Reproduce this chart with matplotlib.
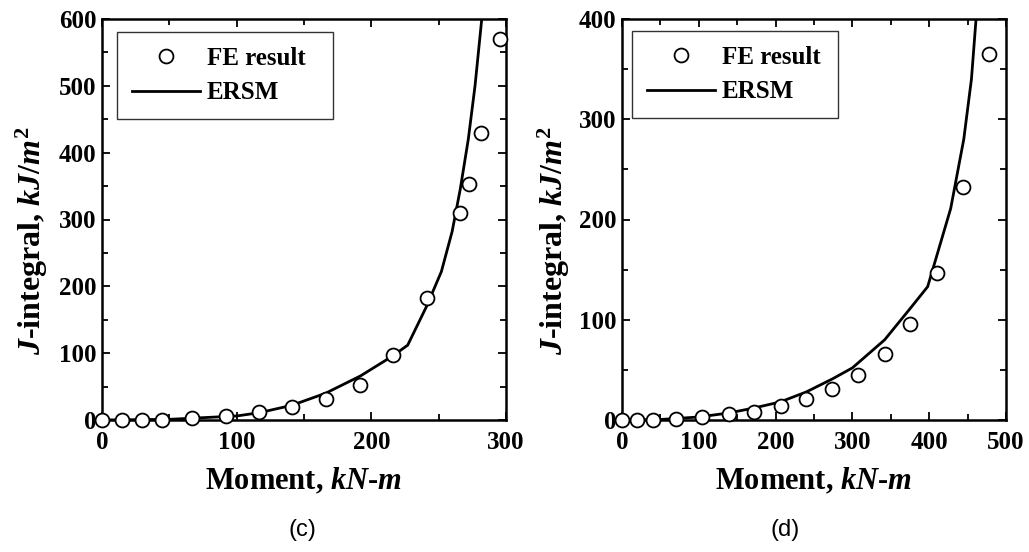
import matplotlib
matplotlib.use("Agg")
import matplotlib.pyplot as plt
from matplotlib.ticker import MultipleLocator

plt.rcParams['font.family'] = ['Liberation Serif', 'DejaVu Serif']
plt.rcParams['font.weight'] = 'bold'
plt.rcParams['mathtext.fontset'] = 'custom'
plt.rcParams['mathtext.it'] = 'Liberation Serif:italic:bold'
plt.rcParams['mathtext.rm'] = 'Liberation Serif:bold'
plt.rcParams['mathtext.bf'] = 'Liberation Serif:bold'

# Panel (c)
fe_c_x = [0, 15, 29.5, 44.5, 66.7, 91.8, 116.6, 141.2, 166.3, 191.6, 216.4, 241, 266, 272.2, 281.1, 295.5]
fe_c_y = [0, 0, 0, 0, 3.5, 6.5, 11.5, 19, 31, 53, 97, 183, 309, 353, 429, 570]
ersm_c_x = [0, 50, 100, 117, 141, 166, 192, 216, 227, 241, 252, 260, 266, 272, 277, 282, 286]
ersm_c_y = [0, 1, 6, 11, 22, 40, 66, 96, 112, 170, 222, 282, 345, 420, 500, 600, 680]

# Panel (d)
fe_d_x = [0, 19.3, 40, 70.3, 104.6, 138.8, 172.2, 206.5, 239.9, 273.7, 307.6, 341.8, 375.2, 409.9, 443.8, 477.6]
fe_d_y = [0, 0, 0, 1, 3.3, 5.6, 8.3, 14, 21, 31, 45, 66, 96, 147, 232, 365]
ersm_d_x = [0, 50, 100, 139, 172, 206, 240, 274, 300, 342, 375, 398, 428, 445, 455, 462, 466]
ersm_d_y = [0, 0.5, 3, 7, 12, 18, 28, 41, 52, 80, 111, 133, 211, 280, 340, 410, 440]

W, H = 1029, 552
fig = plt.figure(figsize=(W / 100, H / 100), dpi=100)

def make_ax(l, r, t, b):
    return fig.add_axes([l / W, 1 - b / H, (r - l) / W, (b - t) / H])

ax1 = make_ax(102, 506, 19, 420)
ax2 = make_ax(622, 1006, 19, 420)

panels = [
    (ax1, fe_c_x, fe_c_y, ersm_c_x, ersm_c_y, 300, 600, 32, 302, "(c)", (117, 333, 32), (102, 506)),
    (ax2, fe_d_x, fe_d_y, ersm_d_x, ersm_d_y, 500, 400, 554, 785, "(d)", (632, 838, 31), (622, 1006)),
]

for ax, fx, fy, ex, ey, xmax, ymax, ylab_x, cap_x, cap, lg, span in panels:
    ax.plot(ex, ey, '-', color='black', lw=2.0, label='ERSM', zorder=2)
    ax.plot(fx, fy, 'o', ms=10, mfc='white', mec='black', mew=1.3,
            label='FE result', clip_on=False, zorder=3)
    ax.set_xlim(0, xmax)
    ax.set_ylim(0, ymax)
    ax.xaxis.set_major_locator(MultipleLocator(100))
    ax.xaxis.set_minor_locator(MultipleLocator(50))
    ax.yaxis.set_major_locator(MultipleLocator(100))
    ax.yaxis.set_minor_locator(MultipleLocator(50))
    ax.tick_params(which='both', direction='in', top=True, right=True, width=1.3)
    ax.tick_params(which='major', length=6, labelsize=18)
    ax.tick_params(which='minor', length=4)
    ax.tick_params(axis='x', pad=8)
    ax.tick_params(axis='y', pad=4)
    for lab in ax.get_xticklabels() + ax.get_yticklabels():
        lab.set_fontweight('bold')
    for s in ax.spines.values():
        s.set_linewidth(1.8)
    ax.set_xlabel(r"Moment, $kN$-$m$", fontsize=22, fontweight='bold')
    ax.xaxis.set_label_coords(0.5, (420 - 466) / 401, transform=ax.transAxes)
    ax.set_ylabel(r"$J$-integral, $kJ/m^2$", fontsize=23, fontweight='bold')
    ax.yaxis.label.set_horizontalalignment('center')
    ax.yaxis.label.set_verticalalignment('center')
    ax.yaxis.set_label_coords(ylab_x / W, 1 - 241 / H, transform=fig.transFigure)
    handles, labels = ax.get_legend_handles_labels()
    l, r, t = lg
    aw = span[1] - span[0]
    leg = ax.legend(handles[::-1], labels[::-1], loc='upper left',
                    bbox_to_anchor=((l - span[0]) / aw, (420 - t) / 401, (r - l) / aw, 0),
                    mode='expand',
                    fancybox=False, framealpha=1, edgecolor='#333333',
                    prop={'family': 'Liberation Serif', 'weight': 'bold', 'size': 18},
                    handlelength=2.7, handletextpad=0.3, borderpad=0.6, labelspacing=0.45,
                    borderaxespad=0)
    leg.get_frame().set_linewidth(1.0)
    fig.text(cap_x / W, 1 - 530 / H, cap, ha='center', va='center',
             fontsize=17, fontweight='normal', family='Liberation Sans')

fig.savefig("out.png", dpi=100)
